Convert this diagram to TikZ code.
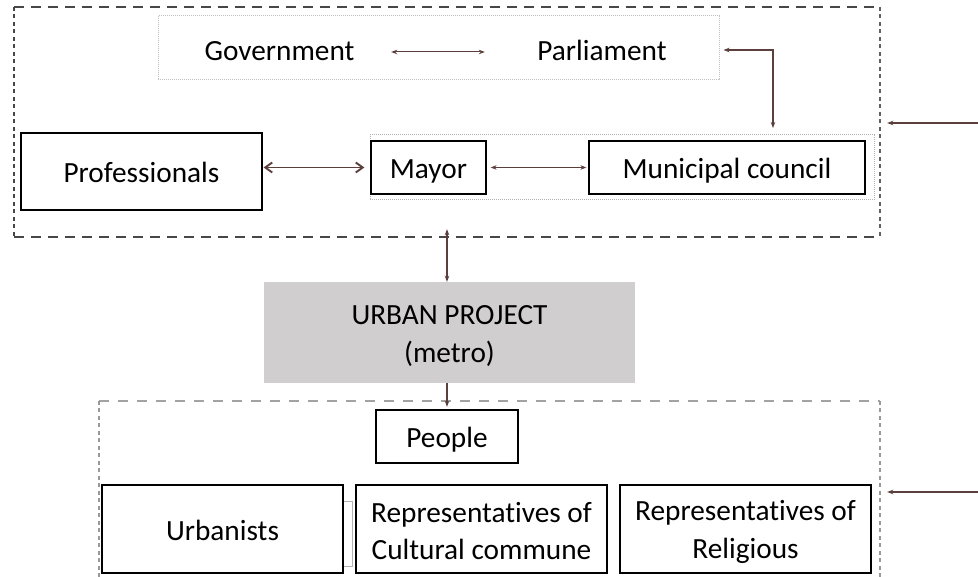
\documentclass[tikz,border=0pt]{standalone}
\usepackage{fontspec}
\setmainfont[Ligatures=NoCommon]{Carlito}
\usetikzlibrary{arrows.meta}
\definecolor{linkbrown}{HTML}{5B3F3C}
\definecolor{projgray}{HTML}{D0CECE}
\begin{document}
\begin{tikzpicture}[x=1pt,y=-1pt,
  txt/.style={font=\fontsize{29.3}{37.5}\selectfont, align=center, inner sep=0pt},
  one/.style={text height=22.5pt, text depth=0pt},
  box/.style={txt, draw=black, line width=1.2pt},
  group/.style={draw=gray!50, line width=1pt, densely dotted, inner sep=0pt},
  frame/.style={draw=none, inner sep=0pt},
  link/.style={draw=linkbrown, line width=1.2pt, {Stealth[length=6pt,width=4.5pt]}-{Stealth[length=6pt,width=4.5pt]}},
  biglink/.style={draw=linkbrown, line width=1.9pt, {Straight Barb[length=7pt,width=10pt]}-{Straight Barb[length=7pt,width=10pt]}},
  inlink/.style={draw=linkbrown, line width=1.2pt, -{Stealth[length=6pt,width=4.5pt]}},
  hdash/.style={dash pattern=on 10pt off 7pt, line width=1.6pt},
  vdash/.style={dash pattern=on 4pt off 3.5pt, line width=1.8pt}
]
\path[use as bounding box, clip] (0,0) rectangle (978,577);

% upper group: institutions
\node[frame, minimum width=866pt, minimum height=230pt] (top) at (447,122) {};
\draw[hdash, draw=black!72] (top.north west) -- (top.north east);
\draw[hdash, draw=black!72] (top.south west) -- (top.south east);
\draw[vdash, draw=black!72] (top.north west) -- (top.south west);
\draw[vdash, draw=black!62] (top.north east) -- (top.south east);

\node[group, minimum width=561pt, minimum height=64pt] (gp) at (438.5,48) {};
\node[txt, one, minimum width=223pt, minimum height=52pt] (gov) at (279.5,49) {Government};
\node[txt, one, minimum width=234pt, minimum height=52pt] (parl) at (602,49) {Parliament};
\draw[link, line width=1pt] ([yshift=-3pt]gov.east) -- ([yshift=-3pt]parl.west);

\node[group, draw=gray!60, minimum width=504pt, minimum height=65pt] (mm) at (622,167.5) {};
\node[box, one, minimum width=115pt, minimum height=53pt] (mayor) at (428.5,167.5) {Mayor};
\node[box, one, minimum width=276pt, minimum height=53pt] (council) at (727,167.5) {Municipal council};
\node[box, one, minimum width=241pt, minimum height=77pt] (prof) at (141.5,171.5) {Professionals};

\coordinate (pbend) at (773,128);
\draw[link] ([xshift=4pt,yshift=-2pt]gp.east) -| (pbend);
\draw[biglink, shorten <=1pt, shorten >=6pt] (prof.east |- mayor.west) -- (mayor.west);
\draw[link, line width=1pt, shorten <=4pt, shorten >=2pt] (mayor.east) -- (council.west);

\coordinate (intop) at (978,123);
\draw[inlink] (intop) -- ([xshift=7pt]top.east |- intop);

% project
\node[txt, fill=projgray, minimum width=371pt, minimum height=101pt] (urban) at (449.5,332.5) {};
\node[txt] (urbantext) at (449.5,336) {URBAN PROJECT\\(metro)};
\draw[link] ([yshift=8pt]top.south) -- (top.south |- urban.north);

% lower group: society
\node[frame, minimum width=781pt, minimum height=199pt] (bot) at (489.5,500.5) {};
\draw[hdash, draw=gray!72, dash pattern=on 10pt off 9pt] (bot.north west) -- (bot.north east);
\draw[vdash, draw=gray!80, line width=1.6pt] (bot.north west) -- (bot.south west);
\draw[vdash, draw=gray!80, line width=1.6pt] (bot.north east) -- (bot.south east);
\draw[inlink] (urban.south -| top.south) -- ([yshift=-6pt]bot.north -| top.south);

\node[box, one, minimum width=142pt, minimum height=53pt] (people) at (447,436.5) {People};
\node[draw=gray!60, line width=1pt, minimum width=9pt, minimum height=65pt, inner sep=0pt] (gap) at (347.5,533.5) {};
\node[box, one, minimum width=241pt, minimum height=88pt] (urb) at (222.5,529) {Urbanists};
\node[box, minimum width=251pt, minimum height=88pt] (cult) at (481.5,529) {};
\node[txt] (culttext) at (481.5,531) {Representatives of\\Cultural commune};
\node[box, minimum width=251pt, minimum height=88pt] (relig) at (745.5,529) {};
\node[txt] (religtext) at (745.5,532) {Representatives of\\Religious};

\coordinate (inbot) at (978,492);
\draw[inlink] (inbot) -- ([xshift=7pt]bot.east |- inbot);
\end{tikzpicture}
\end{document}
